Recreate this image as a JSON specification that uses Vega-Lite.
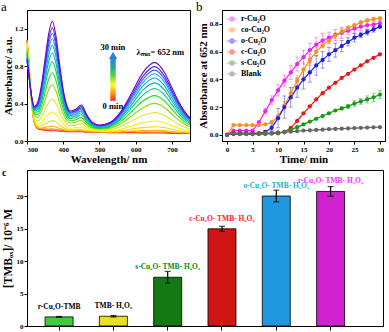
{
"$schema": "https://vega.github.io/schema/vega-lite/v6.json",
"background": "white",
"padding": {"left": 0, "top": 0, "right": 0, "bottom": 0},
"config": {
  "font": "Liberation Serif",
  "view": {"stroke": "black", "strokeWidth": 1},
  "axis": {"grid": false, "labelFont": "Liberation Serif", "labelFontWeight": "bold", "labelFontSize": 7, "labelColor": "black", "titleFont": "Liberation Serif", "titleFontWeight": "bold", "titleFontSize": 11, "titleColor": "black", "domainColor": "black", "tickColor": "black", "tickSize": 3, "labelPadding": 1, "titlePadding": 2},
  "title": {"font": "Liberation Serif", "color": "black"}
},
"spacing": 2,
"resolve": {"scale": {"color": "independent"}, "legend": {"color": "independent"}},
"vconcat": [
{
  "spacing": 32,
  "bounds": "flush",
  "resolve": {"scale": {"color": "independent"}, "legend": {"color": "independent"}},
  "hconcat": [
  {
    "width": 163, "height": 131,
    "title": {"text": "a", "anchor": "start", "frame": "group", "dx": -26, "offset": -4, "fontSize": 13, "fontWeight": "normal"},
    "layer": [
    {
      "data": {"values": [
        {"w":300,"k00":1.08,"k01":1.077,"k02":1.071,"k03":1.06,"k04":1.043,"k05":1.016,"k06":0.988,"k07":0.963,"k08":0.941,"k09":0.924,"k10":0.908,"k11":0.895,"k12":0.884,"k13":0.873,"k14":0.86},
        {"w":305,"k00":0.85,"k01":0.848,"k02":0.844,"k03":0.837,"k04":0.825,"k05":0.807,"k06":0.787,"k07":0.77,"k08":0.756,"k09":0.744,"k10":0.733,"k11":0.724,"k12":0.717,"k13":0.709,"k14":0.7},
        {"w":310,"k00":0.56,"k01":0.559,"k02":0.558,"k03":0.556,"k04":0.554,"k05":0.552,"k06":0.55,"k07":0.549,"k08":0.548,"k09":0.547,"k10":0.547,"k11":0.546,"k12":0.546,"k13":0.545,"k14":0.545},
        {"w":315,"k00":0.33,"k01":0.332,"k02":0.334,"k03":0.339,"k04":0.347,"k05":0.359,"k06":0.372,"k07":0.383,"k08":0.393,"k09":0.401,"k10":0.408,"k11":0.414,"k12":0.419,"k13":0.424,"k14":0.43},
        {"w":320,"k00":0.2,"k01":0.203,"k02":0.207,"k03":0.215,"k04":0.229,"k05":0.249,"k06":0.271,"k07":0.29,"k08":0.307,"k09":0.321,"k10":0.333,"k11":0.343,"k12":0.351,"k13":0.36,"k14":0.37},
        {"w":330,"k00":0.13,"k01":0.134,"k02":0.142,"k03":0.156,"k04":0.179,"k05":0.214,"k06":0.252,"k07":0.284,"k08":0.313,"k09":0.336,"k10":0.356,"k11":0.374,"k12":0.388,"k13":0.403,"k14":0.42},
        {"w":340,"k00":0.12,"k01":0.127,"k02":0.139,"k03":0.163,"k04":0.202,"k05":0.259,"k06":0.322,"k07":0.374,"k08":0.422,"k09":0.461,"k10":0.494,"k11":0.523,"k12":0.547,"k13":0.571,"k14":0.6},
        {"w":350,"k00":0.115,"k01":0.127,"k02":0.146,"k03":0.184,"k04":0.245,"k05":0.337,"k06":0.436,"k07":0.52,"k08":0.597,"k09":0.658,"k10":0.712,"k11":0.758,"k12":0.796,"k13":0.834,"k14":0.88},
        {"w":360,"k00":0.11,"k01":0.126,"k02":0.152,"k03":0.204,"k04":0.287,"k05":0.412,"k06":0.547,"k07":0.661,"k08":0.765,"k09":0.848,"k10":0.921,"k11":0.984,"k12":1.036,"k13":1.088,"k14":1.15},
        {"w":370,"k00":0.11,"k01":0.128,"k02":0.157,"k03":0.215,"k04":0.309,"k05":0.449,"k06":0.601,"k07":0.73,"k08":0.847,"k09":0.941,"k10":1.023,"k11":1.093,"k12":1.151,"k13":1.21,"k14":1.28},
        {"w":380,"k00":0.11,"k01":0.125,"k02":0.15,"k03":0.201,"k04":0.282,"k05":0.403,"k06":0.534,"k07":0.645,"k08":0.746,"k09":0.827,"k10":0.898,"k11":0.958,"k12":1.009,"k13":1.059,"k14":1.12},
        {"w":390,"k00":0.105,"k01":0.116,"k02":0.134,"k03":0.169,"k04":0.227,"k05":0.312,"k06":0.405,"k07":0.484,"k08":0.555,"k09":0.613,"k10":0.663,"k11":0.706,"k12":0.741,"k13":0.777,"k14":0.82},
        {"w":400,"k00":0.105,"k01":0.112,"k02":0.123,"k03":0.145,"k04":0.181,"k05":0.234,"k06":0.292,"k07":0.341,"k08":0.385,"k09":0.421,"k10":0.452,"k11":0.479,"k12":0.501,"k13":0.523,"k14":0.55},
        {"w":410,"k00":0.1,"k01":0.104,"k02":0.111,"k03":0.125,"k04":0.148,"k05":0.181,"k06":0.218,"k07":0.248,"k08":0.276,"k09":0.299,"k10":0.318,"k11":0.335,"k12":0.349,"k13":0.363,"k14":0.38},
        {"w":420,"k00":0.1,"k01":0.103,"k02":0.109,"k03":0.12,"k04":0.137,"k05":0.164,"k06":0.192,"k07":0.217,"k08":0.239,"k09":0.256,"k10":0.272,"k11":0.285,"k12":0.296,"k13":0.307,"k14":0.32},
        {"w":435,"k00":0.1,"k01":0.104,"k02":0.11,"k03":0.122,"k04":0.141,"k05":0.17,"k06":0.201,"k07":0.227,"k08":0.251,"k09":0.27,"k10":0.287,"k11":0.302,"k12":0.314,"k13":0.326,"k14":0.34},
        {"w":450,"k00":0.1,"k01":0.104,"k02":0.111,"k03":0.126,"k04":0.149,"k05":0.183,"k06":0.22,"k07":0.251,"k08":0.28,"k09":0.302,"k10":0.322,"k11":0.339,"k12":0.354,"k13":0.368,"k14":0.385},
        {"w":465,"k00":0.095,"k01":0.098,"k02":0.102,"k03":0.112,"k04":0.127,"k05":0.149,"k06":0.173,"k07":0.193,"k08":0.212,"k09":0.226,"k10":0.239,"k11":0.25,"k12":0.26,"k13":0.269,"k14":0.28},
        {"w":480,"k00":0.095,"k01":0.097,"k02":0.099,"k03":0.105,"k04":0.113,"k05":0.126,"k06":0.139,"k07":0.151,"k08":0.161,"k09":0.17,"k10":0.177,"k11":0.183,"k12":0.189,"k13":0.194,"k14":0.2},
        {"w":500,"k00":0.095,"k01":0.096,"k02":0.098,"k03":0.102,"k04":0.108,"k05":0.117,"k06":0.127,"k07":0.135,"k08":0.142,"k09":0.148,"k10":0.154,"k11":0.158,"k12":0.162,"k13":0.166,"k14":0.17},
        {"w":530,"k00":0.09,"k01":0.092,"k02":0.094,"k03":0.1,"k04":0.109,"k05":0.122,"k06":0.136,"k07":0.148,"k08":0.159,"k09":0.168,"k10":0.176,"k11":0.182,"k12":0.188,"k13":0.193,"k14":0.2},
        {"w":560,"k00":0.09,"k01":0.094,"k02":0.099,"k03":0.111,"k04":0.129,"k05":0.157,"k06":0.187,"k07":0.212,"k08":0.235,"k09":0.253,"k10":0.269,"k11":0.283,"k12":0.295,"k13":0.306,"k14":0.32},
        {"w":590,"k00":0.09,"k01":0.097,"k02":0.107,"k03":0.129,"k04":0.163,"k05":0.215,"k06":0.271,"k07":0.318,"k08":0.361,"k09":0.395,"k10":0.425,"k11":0.451,"k12":0.473,"k13":0.494,"k14":0.52},
        {"w":620,"k00":0.085,"k01":0.095,"k02":0.111,"k03":0.143,"k04":0.195,"k05":0.272,"k06":0.356,"k07":0.427,"k08":0.491,"k09":0.543,"k10":0.588,"k11":0.627,"k12":0.659,"k13":0.691,"k14":0.73},
        {"w":652,"k00":0.085,"k01":0.096,"k02":0.115,"k03":0.153,"k04":0.213,"k05":0.304,"k06":0.402,"k07":0.485,"k08":0.561,"k09":0.621,"k10":0.674,"k11":0.719,"k12":0.757,"k13":0.795,"k14":0.84},
        {"w":680,"k00":0.085,"k01":0.095,"k02":0.111,"k03":0.143,"k04":0.195,"k05":0.272,"k06":0.356,"k07":0.427,"k08":0.491,"k09":0.543,"k10":0.588,"k11":0.627,"k12":0.659,"k13":0.691,"k14":0.73},
        {"w":700,"k00":0.08,"k01":0.087,"k02":0.1,"k03":0.124,"k04":0.163,"k05":0.222,"k06":0.286,"k07":0.34,"k08":0.389,"k09":0.428,"k10":0.462,"k11":0.492,"k12":0.516,"k13":0.541,"k14":0.57},
        {"w":720,"k00":0.08,"k01":0.085,"k02":0.093,"k03":0.11,"k04":0.136,"k05":0.176,"k06":0.219,"k07":0.255,"k08":0.288,"k09":0.314,"k10":0.337,"k11":0.357,"k12":0.374,"k13":0.39,"k14":0.41},
        {"w":740,"k00":0.08,"k01":0.083,"k02":0.088,"k03":0.099,"k04":0.116,"k05":0.141,"k06":0.168,"k07":0.191,"k08":0.212,"k09":0.229,"k10":0.244,"k11":0.256,"k12":0.267,"k13":0.277,"k14":0.29},
        {"w":750,"k00":0.08,"k01":0.083,"k02":0.087,"k03":0.095,"k04":0.109,"k05":0.129,"k06":0.151,"k07":0.17,"k08":0.187,"k09":0.201,"k10":0.213,"k11":0.223,"k12":0.231,"k13":0.24,"k14":0.25}
      ]},
      "transform": [{"fold": ["k00","k01","k02","k03","k04","k05","k06","k07","k08","k09","k10","k11","k12","k13","k14"], "as": ["k", "a"]}],
      "mark": {"type": "line", "interpolate": "monotone", "strokeWidth": 1.1},
      "encoding": {
        "x": {"field": "w", "type": "quantitative", "scale": {"domain": [300, 750], "nice": false, "zero": false}, "axis": {"values": [300,400,500,600,700], "title": "Wavelength/ nm", "titlePadding": 1}},
        "y": {"field": "a", "type": "quantitative", "scale": {"domain": [0, 1.4], "nice": false}, "axis": {"values": [0,0.2,0.4,0.6,0.8,1.0,1.2,1.4], "format": ".1f", "title": "Absorbance/ a.u.", "titlePadding": 1}},
        "color": {"field": "k", "type": "nominal", "legend": null, "scale": {"domain": ["k00","k01","k02","k03","k04","k05","k06","k07","k08","k09","k10","k11","k12","k13","k14"], "range": ["#ff1a1a","#ff6a00","#ffae00","#ffd800","#f5f500","#d8e830","#88e000","#22dd22","#00cc66","#00bbaa","#00aadd","#3399ee","#3366ff","#4422ee","#7a00cc"]}},
        "strokeWidth": {"condition": {"test": "datum.k === 'k14'", "value": 2.8}, "value": 1.1}
      }
    },
    {
      "data": {"values": [{}]},
      "mark": {"type": "rect", "color": {"gradient": "linear", "x1": 0, "y1": 1, "x2": 0, "y2": 0, "stops": [{"offset": 0, "color": "#ff2020"}, {"offset": 0.2, "color": "#ffa020"}, {"offset": 0.38, "color": "#ffff20"}, {"offset": 0.6, "color": "#60d040"}, {"offset": 0.8, "color": "#20a8a0"}, {"offset": 1, "color": "#3a80e0"}]}},
      "encoding": {"x": {"datum": 530}, "x2": {"datum": 545}, "y": {"datum": 0.43}, "y2": {"datum": 0.88}}
    },
    {
      "data": {"values": [{}]},
      "mark": {"type": "point", "shape": "triangle-up", "filled": true, "size": 70, "color": "#2f7fd6", "opacity": 1},
      "encoding": {"x": {"datum": 537.5}, "y": {"datum": 0.915}}
    },
    {
      "data": {"values": [{"label": "30 min", "x": 537, "y": 1.0}, {"label": "0 min", "x": 537, "y": 0.37}, {"label": "λₘₐₓ= 652 nm", "x": 668, "y": 0.955}]},
      "mark": {"type": "text", "font": "Liberation Serif", "fontWeight": "bold", "fontSize": 8.5, "color": "black"},
      "encoding": {"x": {"field": "x", "type": "quantitative"}, "y": {"field": "y", "type": "quantitative"}, "text": {"field": "label"}}
    }
    ]
  },
  {
    "width": 163, "height": 131,
    "title": {"text": "b", "anchor": "start", "frame": "group", "dx": -26, "offset": -4, "fontSize": 13, "fontWeight": "normal"},
    "data": {"values": [
      {"s":"r-Cu₂O","t":0,"v":0,"e":0},{"s":"r-Cu₂O","t":1.25,"v":0.03,"e":0},{"s":"r-Cu₂O","t":2.5,"v":0.03,"e":0},{"s":"r-Cu₂O","t":3.75,"v":0.03,"e":0},{"s":"r-Cu₂O","t":5,"v":0.03,"e":0},{"s":"r-Cu₂O","t":6.25,"v":0.09,"e":0.01},{"s":"r-Cu₂O","t":7.5,"v":0.17,"e":0.02},{"s":"r-Cu₂O","t":8.75,"v":0.25,"e":0.03},{"s":"r-Cu₂O","t":10,"v":0.32,"e":0.04},{"s":"r-Cu₂O","t":11.25,"v":0.39,"e":0.04},{"s":"r-Cu₂O","t":12.5,"v":0.45,"e":0.05},{"s":"r-Cu₂O","t":13.75,"v":0.51,"e":0.05},{"s":"r-Cu₂O","t":15,"v":0.56,"e":0.05},{"s":"r-Cu₂O","t":16.25,"v":0.61,"e":0.05},{"s":"r-Cu₂O","t":17.5,"v":0.65,"e":0.05},{"s":"r-Cu₂O","t":18.75,"v":0.68,"e":0.05},{"s":"r-Cu₂O","t":20,"v":0.7,"e":0.04},{"s":"r-Cu₂O","t":21.25,"v":0.72,"e":0.04},{"s":"r-Cu₂O","t":22.5,"v":0.735,"e":0.04},{"s":"r-Cu₂O","t":23.75,"v":0.75,"e":0.03},{"s":"r-Cu₂O","t":25,"v":0.765,"e":0.03},{"s":"r-Cu₂O","t":26.25,"v":0.78,"e":0.03},{"s":"r-Cu₂O","t":27.5,"v":0.79,"e":0.03},{"s":"r-Cu₂O","t":28.75,"v":0.795,"e":0.02},{"s":"r-Cu₂O","t":30,"v":0.805,"e":0.02},
      {"s":"co-Cu₂O","t":0,"v":0,"e":0},{"s":"co-Cu₂O","t":1.25,"v":0.07,"e":0},{"s":"co-Cu₂O","t":2.5,"v":0.07,"e":0},{"s":"co-Cu₂O","t":3.75,"v":0.07,"e":0},{"s":"co-Cu₂O","t":5,"v":0.07,"e":0},{"s":"co-Cu₂O","t":6.25,"v":0.07,"e":0},{"s":"co-Cu₂O","t":7.5,"v":0.075,"e":0},{"s":"co-Cu₂O","t":8.75,"v":0.09,"e":0.01},{"s":"co-Cu₂O","t":10,"v":0.13,"e":0.02},{"s":"co-Cu₂O","t":11.25,"v":0.21,"e":0.03},{"s":"co-Cu₂O","t":12.5,"v":0.3,"e":0.04},{"s":"co-Cu₂O","t":13.75,"v":0.39,"e":0.04},{"s":"co-Cu₂O","t":15,"v":0.47,"e":0.05},{"s":"co-Cu₂O","t":16.25,"v":0.54,"e":0.04},{"s":"co-Cu₂O","t":17.5,"v":0.6,"e":0.03},{"s":"co-Cu₂O","t":18.75,"v":0.645,"e":0.02},{"s":"co-Cu₂O","t":20,"v":0.68,"e":0.02},{"s":"co-Cu₂O","t":21.25,"v":0.715,"e":0.02},{"s":"co-Cu₂O","t":22.5,"v":0.745,"e":0.02},{"s":"co-Cu₂O","t":23.75,"v":0.77,"e":0.015},{"s":"co-Cu₂O","t":25,"v":0.79,"e":0.015},{"s":"co-Cu₂O","t":26.25,"v":0.81,"e":0.01},{"s":"co-Cu₂O","t":27.5,"v":0.825,"e":0.01},{"s":"co-Cu₂O","t":28.75,"v":0.835,"e":0.01},{"s":"co-Cu₂O","t":30,"v":0.84,"e":0.01},
      {"s":"o-Cu₂O","t":0,"v":0,"e":0},{"s":"o-Cu₂O","t":1.25,"v":0.01,"e":0},{"s":"o-Cu₂O","t":2.5,"v":0.01,"e":0},{"s":"o-Cu₂O","t":3.75,"v":0.01,"e":0},{"s":"o-Cu₂O","t":5,"v":0.01,"e":0},{"s":"o-Cu₂O","t":6.25,"v":0.01,"e":0},{"s":"o-Cu₂O","t":7.5,"v":0.02,"e":0.01},{"s":"o-Cu₂O","t":8.75,"v":0.05,"e":0.02},{"s":"o-Cu₂O","t":10,"v":0.12,"e":0.07},{"s":"o-Cu₂O","t":11.25,"v":0.2,"e":0.08},{"s":"o-Cu₂O","t":12.5,"v":0.27,"e":0.07},{"s":"o-Cu₂O","t":13.75,"v":0.34,"e":0.07},{"s":"o-Cu₂O","t":15,"v":0.4,"e":0.07},{"s":"o-Cu₂O","t":16.25,"v":0.45,"e":0.07},{"s":"o-Cu₂O","t":17.5,"v":0.5,"e":0.07},{"s":"o-Cu₂O","t":18.75,"v":0.54,"e":0.06},{"s":"o-Cu₂O","t":20,"v":0.58,"e":0.05},{"s":"o-Cu₂O","t":21.25,"v":0.61,"e":0.05},{"s":"o-Cu₂O","t":22.5,"v":0.64,"e":0.04},{"s":"o-Cu₂O","t":23.75,"v":0.67,"e":0.03},{"s":"o-Cu₂O","t":25,"v":0.7,"e":0.03},{"s":"o-Cu₂O","t":26.25,"v":0.72,"e":0.02},{"s":"o-Cu₂O","t":27.5,"v":0.74,"e":0.02},{"s":"o-Cu₂O","t":28.75,"v":0.76,"e":0.02},{"s":"o-Cu₂O","t":30,"v":0.78,"e":0.01},
      {"s":"c-Cu₂O","t":0,"v":0,"e":0},{"s":"c-Cu₂O","t":1.25,"v":0.01,"e":0},{"s":"c-Cu₂O","t":2.5,"v":0.01,"e":0},{"s":"c-Cu₂O","t":3.75,"v":0.01,"e":0},{"s":"c-Cu₂O","t":5,"v":0.01,"e":0},{"s":"c-Cu₂O","t":6.25,"v":0.01,"e":0},{"s":"c-Cu₂O","t":7.5,"v":0.01,"e":0},{"s":"c-Cu₂O","t":8.75,"v":0.01,"e":0},{"s":"c-Cu₂O","t":10,"v":0.015,"e":0},{"s":"c-Cu₂O","t":11.25,"v":0.02,"e":0},{"s":"c-Cu₂O","t":12.5,"v":0.05,"e":0},{"s":"c-Cu₂O","t":13.75,"v":0.1,"e":0},{"s":"c-Cu₂O","t":15,"v":0.155,"e":0},{"s":"c-Cu₂O","t":16.25,"v":0.205,"e":0},{"s":"c-Cu₂O","t":17.5,"v":0.255,"e":0},{"s":"c-Cu₂O","t":18.75,"v":0.3,"e":0},{"s":"c-Cu₂O","t":20,"v":0.34,"e":0},{"s":"c-Cu₂O","t":21.25,"v":0.375,"e":0},{"s":"c-Cu₂O","t":22.5,"v":0.41,"e":0},{"s":"c-Cu₂O","t":23.75,"v":0.44,"e":0},{"s":"c-Cu₂O","t":25,"v":0.47,"e":0},{"s":"c-Cu₂O","t":26.25,"v":0.5,"e":0},{"s":"c-Cu₂O","t":27.5,"v":0.53,"e":0},{"s":"c-Cu₂O","t":28.75,"v":0.555,"e":0},{"s":"c-Cu₂O","t":30,"v":0.58,"e":0},
      {"s":"s-Cu₂O","t":0,"v":0,"e":0},{"s":"s-Cu₂O","t":1.25,"v":0.005,"e":0},{"s":"s-Cu₂O","t":2.5,"v":0.005,"e":0},{"s":"s-Cu₂O","t":3.75,"v":0.005,"e":0},{"s":"s-Cu₂O","t":5,"v":0.005,"e":0},{"s":"s-Cu₂O","t":6.25,"v":0.005,"e":0},{"s":"s-Cu₂O","t":7.5,"v":0.005,"e":0},{"s":"s-Cu₂O","t":8.75,"v":0.01,"e":0},{"s":"s-Cu₂O","t":10,"v":0.01,"e":0},{"s":"s-Cu₂O","t":11.25,"v":0.02,"e":0},{"s":"s-Cu₂O","t":12.5,"v":0.035,"e":0},{"s":"s-Cu₂O","t":13.75,"v":0.055,"e":0},{"s":"s-Cu₂O","t":15,"v":0.075,"e":0},{"s":"s-Cu₂O","t":16.25,"v":0.095,"e":0},{"s":"s-Cu₂O","t":17.5,"v":0.115,"e":0},{"s":"s-Cu₂O","t":18.75,"v":0.135,"e":0},{"s":"s-Cu₂O","t":20,"v":0.155,"e":0},{"s":"s-Cu₂O","t":21.25,"v":0.175,"e":0},{"s":"s-Cu₂O","t":22.5,"v":0.19,"e":0.01},{"s":"s-Cu₂O","t":23.75,"v":0.205,"e":0.015},{"s":"s-Cu₂O","t":25,"v":0.225,"e":0.02},{"s":"s-Cu₂O","t":26.25,"v":0.24,"e":0.02},{"s":"s-Cu₂O","t":27.5,"v":0.255,"e":0.025},{"s":"s-Cu₂O","t":28.75,"v":0.27,"e":0.03},{"s":"s-Cu₂O","t":30,"v":0.29,"e":0.03},
      {"s":"Blank","t":0,"v":0,"e":0},{"s":"Blank","t":1.25,"v":0.005,"e":0},{"s":"Blank","t":2.5,"v":0.005,"e":0},{"s":"Blank","t":3.75,"v":0.005,"e":0},{"s":"Blank","t":5,"v":0.005,"e":0},{"s":"Blank","t":6.25,"v":0.008,"e":0},{"s":"Blank","t":7.5,"v":0.01,"e":0},{"s":"Blank","t":8.75,"v":0.012,"e":0},{"s":"Blank","t":10,"v":0.015,"e":0},{"s":"Blank","t":11.25,"v":0.018,"e":0},{"s":"Blank","t":12.5,"v":0.022,"e":0},{"s":"Blank","t":13.75,"v":0.026,"e":0},{"s":"Blank","t":15,"v":0.03,"e":0},{"s":"Blank","t":16.25,"v":0.032,"e":0},{"s":"Blank","t":17.5,"v":0.035,"e":0},{"s":"Blank","t":18.75,"v":0.037,"e":0},{"s":"Blank","t":20,"v":0.04,"e":0},{"s":"Blank","t":21.25,"v":0.042,"e":0},{"s":"Blank","t":22.5,"v":0.044,"e":0},{"s":"Blank","t":23.75,"v":0.046,"e":0},{"s":"Blank","t":25,"v":0.048,"e":0},{"s":"Blank","t":26.25,"v":0.05,"e":0},{"s":"Blank","t":27.5,"v":0.052,"e":0},{"s":"Blank","t":28.75,"v":0.054,"e":0},{"s":"Blank","t":30,"v":0.055,"e":0}
    ]},
    "encoding": {
      "x": {"field": "t", "type": "quantitative", "scale": {"domain": [-1, 31], "nice": false, "zero": false}, "axis": {"values": [0,5,10,15,20,25,30], "title": "Time/ min", "titlePadding": 1}},
      "y": {"field": "v", "type": "quantitative", "scale": {"domain": [-0.045, 0.9], "nice": false, "zero": false}, "axis": {"values": [0,0.2,0.4,0.6,0.8], "format": ".1f", "title": "Absorbance at 652 nm", "titlePadding": 1}},
      "color": {"field": "s", "type": "nominal", "scale": {"domain": ["r-Cu₂O","co-Cu₂O","o-Cu₂O","c-Cu₂O","s-Cu₂O","Blank"], "range": ["#ee22ee","#ff8c1a","#2020e0","#ee1515","#159a15","#666666"]},
        "legend": {"orient": "none", "legendX": 4, "legendY": 3, "title": null, "labelFont": "Liberation Serif", "labelFontWeight": "bold", "labelFontSize": 8, "labelColor": "black", "symbolType": "M-1,0L-0.4,0M0.4,0L1,0M0.4,0A0.4,0.4,0,1,1,-0.4,0A0.4,0.4,0,1,1,0.4,0", "symbolSize": 110, "symbolStrokeWidth": 1.2, "rowPadding": 0, "labelOffset": 3, "padding": 0}}
    },
    "layer": [
      {"transform": [{"filter": "datum.e > 0"}], "mark": {"type": "errorbar", "ticks": {"size": 4}, "opacity": 0.45}, "encoding": {"yError": {"field": "e"}}},
      {"mark": {"type": "line", "strokeWidth": 1.2}},
      {"mark": {"type": "point", "filled": true, "size": 18, "opacity": 1, "strokeWidth": 0.8}}
    ]
  }
  ]
},
{
  "width": 356, "height": 156,
  "title": {"text": "c", "anchor": "start", "frame": "group", "dx": -25, "offset": -8, "fontSize": 10, "fontWeight": "bold"},
  "data": {"values": [
    {"n": "r-Cu₂O-TMB", "v": 1.4, "e": 0.07},
    {"n": "TMB- H₂O₂", "v": 1.5, "e": 0.12},
    {"n": "s-Cu₂O- TMB- H₂O₂", "v": 7.5, "e": 0.9},
    {"n": "c-Cu₂O- TMB- H₂O₂", "v": 14.95, "e": 0.4},
    {"n": "o-Cu₂O- TMB- H₂O₂", "v": 20.0, "e": 0.9},
    {"n": "r-Cu₂O- TMB- H₂O₂", "v": 20.7, "e": 0.75}
  ]},
  "encoding": {
    "x": {"field": "n", "type": "nominal", "sort": null, "scale": {"paddingInner": 0.484, "paddingOuter": 0.52, "align": 0.32}, "axis": {"title": null, "labels": false, "tickSize": 4, "bandPosition": 0.5}},
    "y": {"field": "v", "type": "quantitative", "scale": {"domain": [0, 24], "nice": false}, "axis": {"values": [0,5,10,15,20], "title": "[TMBₒₓ]/ 10⁻⁶ M", "titleFontSize": 11.5, "titlePadding": 3}}
  },
  "layer": [
    {"mark": {"type": "bar", "stroke": "black", "strokeWidth": 0.8},
     "encoding": {"color": {"field": "n", "type": "nominal", "legend": null, "scale": {"domain": ["r-Cu₂O-TMB","TMB- H₂O₂","s-Cu₂O- TMB- H₂O₂","c-Cu₂O- TMB- H₂O₂","o-Cu₂O- TMB- H₂O₂","r-Cu₂O- TMB- H₂O₂"], "range": ["#3ccc3c","#e8e020","#137a13","#d01515","#2098e0","#d020d0"]}}}},
    {"mark": {"type": "errorbar", "ticks": {"size": 6}, "color": "black", "thickness": 1.2},
     "encoding": {"yError": {"field": "e"}}},
    {"mark": {"type": "text", "dy": -6, "baseline": "bottom", "font": "Liberation Serif", "fontWeight": "bold", "fontSize": 7.5},
     "encoding": {"text": {"field": "n"}, "color": {"field": "n", "type": "nominal", "legend": null, "scale": {"domain": ["r-Cu₂O-TMB","TMB- H₂O₂","s-Cu₂O- TMB- H₂O₂","c-Cu₂O- TMB- H₂O₂","o-Cu₂O- TMB- H₂O₂","r-Cu₂O- TMB- H₂O₂"], "range": ["#000000","#000000","#0a8a0a","#ff1a1a","#20b0d0","#ff30ff"]}}}}
  ],
  "resolve": {"scale": {"color": "independent"}}
}
]
}
